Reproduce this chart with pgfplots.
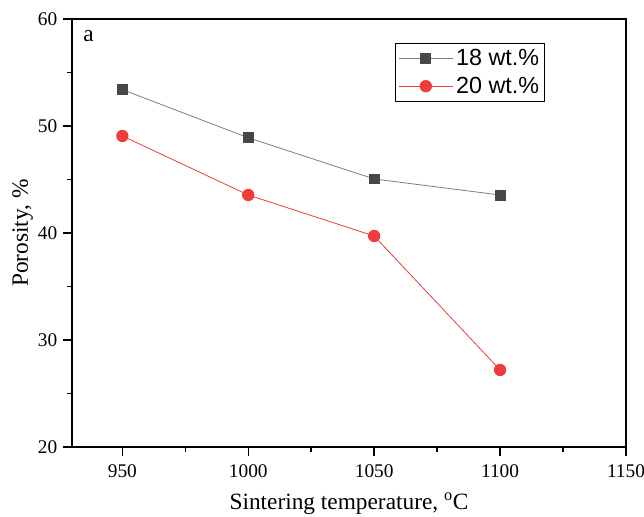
\documentclass[border=0pt]{standalone}
\usepackage{fontspec}
\setmainfont{Liberation Serif}
\newfontfamily\legfont{Liberation Sans}
\usepackage{pgfplots}
\pgfplotsset{compat=1.18}
\definecolor{sqgray}{HTML}{474747}
\definecolor{dotred}{HTML}{EE3B3B}
\begin{document}
\begin{tikzpicture}
% page = 644x517 px at 0.75pt per px; axis box from (72,19) to (626,447)
\path[use as bounding box] (-54pt,-52.5pt) rectangle (429pt,335.25pt);
\begin{axis}[
  at={(0pt,0pt)}, anchor=south west,
  scale only axis,
  width=415.5pt, height=321pt,
  xmin=930, xmax=1150, ymin=20, ymax=60,
  xtick={950,1000,...,1150}, ytick={20,30,...,60},
  minor x tick num=1, minor y tick num=1,
  tick align=outside, tick pos=left,
  major tick length=6.5pt, minor tick length=3.5pt,
  every tick/.style={black, line width=1.1pt},
  axis line style={line width=1.1pt},
  tick label style={font=\fontsize{14.5}{16}\selectfont},
  xticklabel style={yshift=-3pt},
  yticklabel style={xshift=-1pt},
  /pgf/number format/assume math mode=true,
  /pgf/number format/set thousands separator={},
  xlabel={Sintering temperature, \textsuperscript{o}C},
  ylabel={Porosity, \%},
  label style={font=\fontsize{17.5}{20}\selectfont},
  xlabel style={yshift=-5pt},
  ylabel style={yshift=-3pt},
  legend style={at={(0.583,0.944)}, anchor=north west, draw=black, line width=0.7pt,
    font=\legfont\fontsize{17.5}{20}\selectfont, row sep=3pt,
    inner xsep=2pt, inner ysep=2.5pt},
  legend cell align=left,
  legend image code/.code={
    \draw[mark repeat=2,mark phase=2] plot coordinates {(0cm,0cm) (0.72cm,0cm) (1.44cm,0cm)};},
]
\addplot[sqgray!70, line width=0.6pt, mark=square*, mark size=3.7pt,
  mark options={fill=sqgray, draw=sqgray}] coordinates {
  (950,53.4) (1000,48.9) (1050,45.05) (1100,43.55)
};
\addlegendentry{18 wt.\%}
\addplot[dotred, line width=0.6pt, mark=*, mark size=4.3pt,
  mark options={fill=dotred, draw=dotred}] coordinates {
  (950,49.07) (1000,43.55) (1050,39.72) (1100,27.2)
};
\addlegendentry{20 wt.\%}
\node[anchor=north west, font=\fontsize{17.5}{20}\selectfont] at (axis description cs:0.012,0.985) {a};
\end{axis}
\end{tikzpicture}
\end{document}
